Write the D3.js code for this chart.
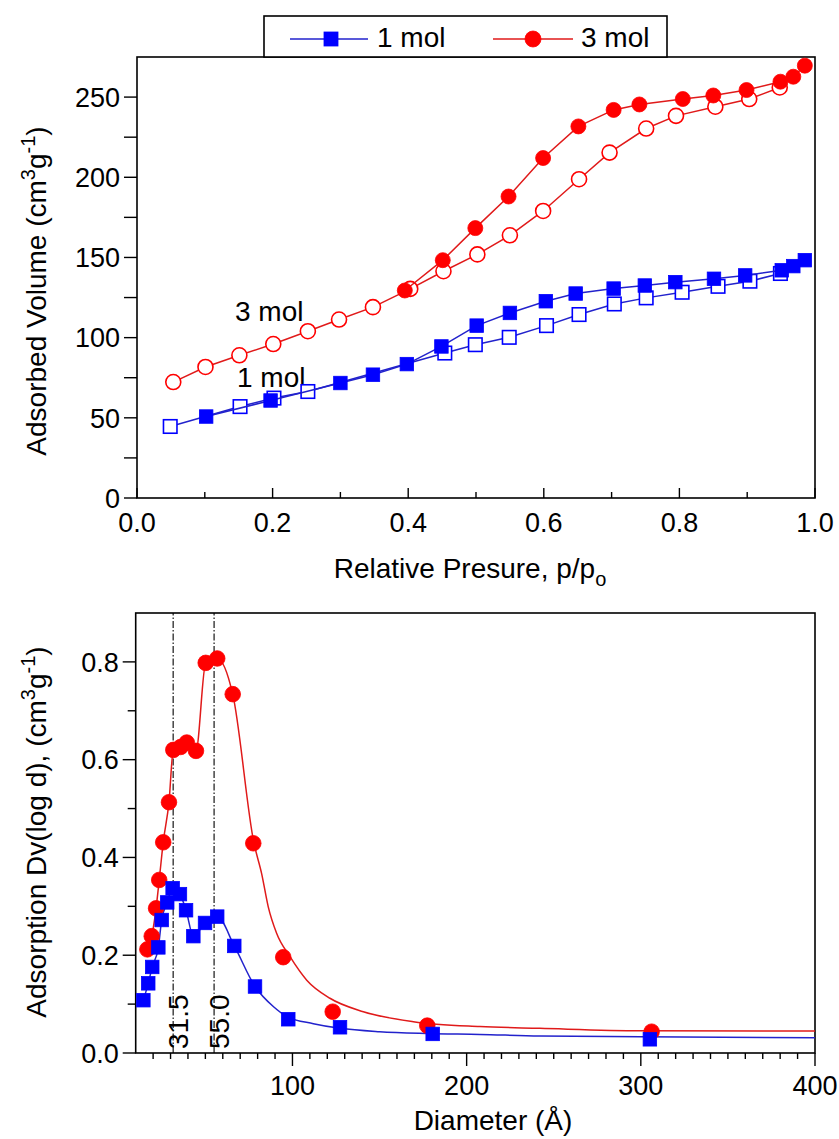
<!DOCTYPE html>
<html>
<head>
<meta charset="utf-8">
<script src="https://cdn.jsdelivr.net/npm/d3@7"></script>
<style>
  html, body { margin: 0; padding: 0; background: #fff; }
  svg { display: block; font-family: "Liberation Sans", Arial, sans-serif; }
</style>
</head>
<body>
<svg id="chart" width="839" height="1139"></svg>
<script>
// ---------- Top panel: N2 isotherms ----------
const seriesNames = ["1 mol", "3 mol"];

const p1molAds = [0.102, 0.197, 0.30, 0.348, 0.398, 0.449, 0.501, 0.55, 0.603, 0.647, 0.703, 0.749, 0.794, 0.851, 0.897, 0.951, 0.968, 0.985];
const v1molAds = [50.8, 60.8, 71.7, 76.9, 83.5, 94.5, 107.5, 115.4, 122.7, 127.5, 130.6, 132.5, 134.6, 136.7, 138.8, 142, 144.6, 148.3];
const p1molDes = [0.049, 0.152, 0.202, 0.252, 0.454, 0.499, 0.549, 0.604, 0.652, 0.704, 0.751, 0.804, 0.857, 0.904, 0.949];
const v1molDes = [44.6, 57, 62.3, 66.4, 90.4, 95.6, 100.2, 107.5, 114.4, 121, 124.8, 128.3, 132, 135.2, 140];

const p3molAds = [0.395, 0.451, 0.499, 0.548, 0.599, 0.651, 0.703, 0.741, 0.805, 0.85, 0.899, 0.949, 0.968, 0.985];
const v3molAds = [129.4, 148.3, 168.3, 188, 212, 231.7, 242, 245.4, 248.8, 251, 254.4, 259.6, 262.7, 269.6];
const p3molDes = [0.0535, 0.101, 0.151, 0.201, 0.252, 0.298, 0.348, 0.403, 0.452, 0.502, 0.55, 0.599, 0.652, 0.697, 0.751, 0.795, 0.853, 0.903, 0.948];
const v3molDes = [72.3, 81.7, 89, 96, 104, 111.3, 119, 130.4, 141.4, 151.9, 163.8, 179, 198.8, 215.4, 230.4, 238.3, 244, 248.8, 256];

const topXTicks = [0.0, 0.2, 0.4, 0.6, 0.8, 1.0];
const topXMinor = [0.1, 0.3, 0.5, 0.7, 0.9];
const topYTicks = [0, 50, 100, 150, 200, 250];
const topYMinor = [25, 75, 125, 175, 225];

// ---------- Bottom panel: pore size distribution ----------
const d1mol = [14.4, 17.2, 19.5, 23, 24.9, 28.1, 31.2, 35.4, 38.9, 43.1, 49.8, 56.8, 66.6, 78.5, 97.6, 127.3, 180.5, 305.2];
const dv1mol = [0.108, 0.1425, 0.176, 0.216, 0.272, 0.308, 0.337, 0.325, 0.292, 0.239, 0.266, 0.279, 0.219, 0.136, 0.069, 0.0526, 0.039, 0.028];
const d3mol = [16.7, 19.2, 21.7, 23.5, 25.8, 29.1, 31.6, 35.8, 39.3, 44.6, 50.2, 56.8, 65.7, 77.5, 94.7, 123.1, 177.4, 306.2];
const dv3mol = [0.212, 0.239, 0.296, 0.354, 0.431, 0.513, 0.620, 0.626, 0.635, 0.618, 0.798, 0.807, 0.734, 0.429, 0.196, 0.0845, 0.056, 0.0436];

// smooth fitted curves
const fitD1mol = [14.4, 17.2, 19.5, 23, 24.9, 28.1, 31.2, 35.4, 38.9, 43.1, 49.8, 56.8, 66.6, 78.5, 89, 97, 112, 127.3, 150, 177, 207.6, 242, 300, 400];
const fitV1mol = [0.108, 0.1425, 0.176, 0.216, 0.272, 0.308, 0.337, 0.325, 0.292, 0.239, 0.266, 0.279, 0.219, 0.136, 0.095, 0.074, 0.060, 0.0505, 0.0436, 0.040, 0.038, 0.0348, 0.0333, 0.031];
const fitD3mol = [16.7, 19.2, 21.7, 23.5, 25.8, 29.1, 31.6, 35.8, 39.3, 44.6, 50.2, 56.8, 65.7, 77.9, 82.3, 86.1, 90.9, 98.6, 108.2, 121.5, 140.7, 169.4, 207.6, 242, 300, 400];
const fitV3mol = [0.212, 0.239, 0.296, 0.354, 0.431, 0.513, 0.620, 0.626, 0.635, 0.618, 0.798, 0.807, 0.734, 0.429, 0.367, 0.299, 0.245, 0.197, 0.149, 0.112, 0.0845, 0.064, 0.054, 0.0505, 0.0456, 0.045];

const markerD = [31.5, 55.0];

const botXTicks = [100, 200, 300, 400];
const botXMinor = d3.range(20, 400, 10).filter(v => v % 100 !== 0);
const botYTicks = [0.0, 0.2, 0.4, 0.6, 0.8];
const botYMinor = [0.1, 0.3, 0.5, 0.7];

// ---------- styles ----------
const BLUE = "#0000ff", RED = "#ff0000";
const BLUE_LINE = "#2222cc", RED_LINE = "#e01a1a";
const FS_TICK = 27, FS_TITLE = 28;

const svg = d3.select("#chart");

function drawSquare(g, x, y, s, color, filled) {
  g.append("rect").attr("x", x - s / 2).attr("y", y - s / 2).attr("width", s).attr("height", s)
    .attr("fill", filled ? color : "#fff").attr("stroke", color).attr("stroke-width", filled ? 0.8 : 1.6);
}
function drawCircle(g, x, y, r, color, filled) {
  g.append("circle").attr("cx", x).attr("cy", y).attr("r", r)
    .attr("fill", filled ? color : "#fff").attr("stroke", color).attr("stroke-width", filled ? 0.8 : 1.6);
}

// ================= TOP PANEL =================
const xT = d3.scaleLinear().domain([0, 1]).range([137, 815]);
const yT = d3.scaleLinear().domain([0, 275]).range([498, 57]);
const gT = svg.append("g");

// legend box
const lg = svg.append("g");
lg.append("rect").attr("x", 264).attr("y", 16).attr("width", 403).attr("height", 41)
  .attr("fill", "#fff").attr("stroke", "#000").attr("stroke-width", 1.6);
lg.append("line").attr("x1", 290).attr("x2", 368).attr("y1", 39).attr("y2", 39).attr("stroke", BLUE_LINE).attr("stroke-width", 1.6);
drawSquare(lg, 331, 39, 14, BLUE, true);
lg.append("text").attr("x", 377).attr("y", 47).attr("font-size", 28).text(seriesNames[0]);
lg.append("line").attr("x1", 493).attr("x2", 573).attr("y1", 39).attr("y2", 39).attr("stroke", RED_LINE).attr("stroke-width", 1.6);
drawCircle(lg, 533, 39, 8, RED, true);
lg.append("text").attr("x", 581).attr("y", 47).attr("font-size", 28).text(seriesNames[1]);

// frame
gT.append("rect").attr("x", xT(0)).attr("y", yT(275)).attr("width", xT(1) - xT(0)).attr("height", yT(0) - yT(275))
  .attr("fill", "none").attr("stroke", "#000").attr("stroke-width", 1.6);

// x ticks (inward)
topXTicks.forEach(v => {
  gT.append("line").attr("x1", xT(v)).attr("x2", xT(v)).attr("y1", yT(0)).attr("y2", yT(0) - 10).attr("stroke", "#000").attr("stroke-width", 1.4);
  gT.append("text").attr("x", xT(v)).attr("y", 532).attr("text-anchor", "middle").attr("font-size", FS_TICK).text(d3.format(".1f")(v));
});
topXMinor.forEach(v => {
  gT.append("line").attr("x1", xT(v)).attr("x2", xT(v)).attr("y1", yT(0)).attr("y2", yT(0) - 6).attr("stroke", "#000").attr("stroke-width", 1.4);
});
// y ticks (outward)
topYTicks.forEach(v => {
  gT.append("line").attr("x1", xT(0) - 13).attr("x2", xT(0)).attr("y1", yT(v)).attr("y2", yT(v)).attr("stroke", "#000").attr("stroke-width", 1.4);
  gT.append("text").attr("x", xT(0) - 17).attr("y", yT(v)).attr("dy", "0.36em").attr("text-anchor", "end").attr("font-size", FS_TICK).text(v);
});
topYMinor.forEach(v => {
  gT.append("line").attr("x1", xT(0) - 13).attr("x2", xT(0)).attr("y1", yT(v)).attr("y2", yT(v)).attr("stroke", "#000").attr("stroke-width", 1.4);
});

// titles
const tX = gT.append("text").attr("x", 470).attr("y", 578).attr("text-anchor", "middle").attr("font-size", FS_TITLE);
tX.append("tspan").text("Relative Presure, p/p");
tX.append("tspan").attr("dy", 8).attr("font-size", 20).text("o");

const tY = gT.append("text").attr("transform", "translate(46,291) rotate(-90)").attr("text-anchor", "middle").attr("font-size", FS_TITLE);
tY.append("tspan").text("Adsorbed Volume (cm");
tY.append("tspan").attr("dy", -11).attr("font-size", 20).text("3");
tY.append("tspan").attr("dy", 11).text("g");
tY.append("tspan").attr("dy", -11).attr("font-size", 20).text("-1");
tY.append("tspan").attr("dy", 11).text(")");

// annotations
gT.append("text").attr("x", 235).attr("y", 321).attr("font-size", 28).text(seriesNames[1]);
gT.append("text").attr("x", 237).attr("y", 387).attr("font-size", 28).text(seriesNames[0]);

// series
const lineT = d3.line().x(d => xT(d[0])).y(d => yT(d[1]));
function zip(a, b) { return a.map((v, i) => [v, b[i]]); }

const s3d = zip(p3molDes, v3molDes), s3a = zip(p3molAds, v3molAds);
const s1d = zip(p1molDes, v1molDes), s1a = zip(p1molAds, v1molAds);

gT.append("path").attr("d", lineT(s3d)).attr("fill", "none").attr("stroke", RED_LINE).attr("stroke-width", 1.5);
s3d.forEach(d => drawCircle(gT, xT(d[0]), yT(d[1]), 7.5, RED, false));
gT.append("path").attr("d", lineT(s3a)).attr("fill", "none").attr("stroke", RED_LINE).attr("stroke-width", 1.5);
s3a.forEach(d => drawCircle(gT, xT(d[0]), yT(d[1]), 7.5, RED, true));

gT.append("path").attr("d", lineT(s1d)).attr("fill", "none").attr("stroke", BLUE_LINE).attr("stroke-width", 1.5);
s1d.forEach(d => drawSquare(gT, xT(d[0]), yT(d[1]), 13.5, BLUE, false));
gT.append("path").attr("d", lineT(s1a)).attr("fill", "none").attr("stroke", BLUE_LINE).attr("stroke-width", 1.5);
s1a.forEach(d => drawSquare(gT, xT(d[0]), yT(d[1]), 13.5, BLUE, true));

// ================= BOTTOM PANEL =================
const xB = d3.scaleLinear().domain([10, 400]).range([135.7, 815]);
const yB = d3.scaleLinear().domain([0, 0.9]).range([1053, 613]);
const gB = svg.append("g");

gB.append("rect").attr("x", xB(10)).attr("y", yB(0.9)).attr("width", xB(400) - xB(10)).attr("height", yB(0) - yB(0.9))
  .attr("fill", "none").attr("stroke", "#000").attr("stroke-width", 1.6);

botXTicks.forEach(v => {
  gB.append("line").attr("x1", xB(v)).attr("x2", xB(v)).attr("y1", yB(0)).attr("y2", yB(0) + 13).attr("stroke", "#000").attr("stroke-width", 1.4);
  gB.append("text").attr("x", xB(v)).attr("y", 1095).attr("text-anchor", "middle").attr("font-size", FS_TICK).text(v);
});
botXMinor.forEach(v => {
  gB.append("line").attr("x1", xB(v)).attr("x2", xB(v)).attr("y1", yB(0)).attr("y2", yB(0) + 6).attr("stroke", "#000").attr("stroke-width", 1.4);
});
botYTicks.forEach(v => {
  gB.append("line").attr("x1", xB(10) - 13).attr("x2", xB(10)).attr("y1", yB(v)).attr("y2", yB(v)).attr("stroke", "#000").attr("stroke-width", 1.4);
  gB.append("text").attr("x", xB(10) - 17).attr("y", yB(v)).attr("dy", "0.36em").attr("text-anchor", "end").attr("font-size", FS_TICK).text(d3.format(".1f")(v));
});
botYMinor.forEach(v => {
  gB.append("line").attr("x1", xB(10) - 8).attr("x2", xB(10)).attr("y1", yB(v)).attr("y2", yB(v)).attr("stroke", "#000").attr("stroke-width", 1.4);
});

gB.append("text").attr("x", 493).attr("y", 1130).attr("text-anchor", "middle").attr("font-size", FS_TITLE).text("Diameter (Å)");

const tY2 = gB.append("text").attr("transform", "translate(46,832) rotate(-90)").attr("text-anchor", "middle").attr("font-size", FS_TITLE);
tY2.append("tspan").text("Adsorption Dv(log d), (cm");
tY2.append("tspan").attr("dy", -11).attr("font-size", 20).text("3");
tY2.append("tspan").attr("dy", 11).text("g");
tY2.append("tspan").attr("dy", -11).attr("font-size", 20).text("-1");
tY2.append("tspan").attr("dy", 11).text(")");

// reference lines
markerD.forEach(v => {
  gB.append("line").attr("x1", xB(v)).attr("x2", xB(v)).attr("y1", yB(0)).attr("y2", yB(0.9))
    .attr("stroke", "#000").attr("stroke-width", 1.1).attr("stroke-dasharray", "7,2,1.5,2");
  gB.append("text").attr("transform", `translate(${xB(v) + 15},1049) rotate(-90)`).attr("font-size", 28).text(d3.format(".1f")(v));
});

const lineB = d3.line().x(d => xB(d[0])).y(d => yB(d[1])).curve(d3.curveMonotoneX);

gB.append("path").attr("d", lineB(zip(fitD3mol, fitV3mol))).attr("fill", "none").attr("stroke", RED_LINE).attr("stroke-width", 1.5);
gB.append("path").attr("d", lineB(zip(fitD1mol, fitV1mol))).attr("fill", "none").attr("stroke", BLUE_LINE).attr("stroke-width", 1.5);

zip(d3mol, dv3mol).forEach(d => drawCircle(gB, xB(d[0]), yB(d[1]), 7.8, RED, true));
zip(d1mol, dv1mol).forEach(d => drawSquare(gB, xB(d[0]), yB(d[1]), 13.5, BLUE, true));
</script>
</body>
</html>
